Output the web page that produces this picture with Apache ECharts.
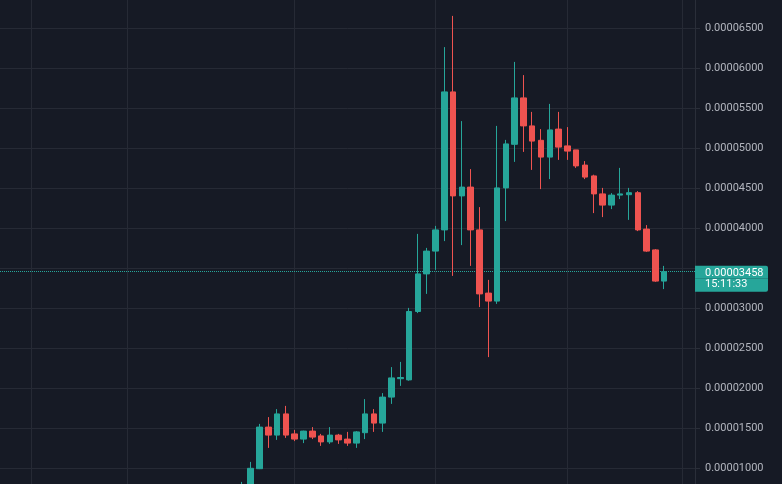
<!DOCTYPE html>
<html>
<head>
<meta charset="utf-8">
<script src="https://cdn.jsdelivr.net/npm/echarts@6/dist/echarts.min.js"></script>
<style>
html,body{margin:0;padding:0;background:#161a25;}
#chart{width:782px;height:484px;}
</style>
</head>
<body>
<div id="chart"></div>
<script>
// ---- data ----
const slotCount = 79;          // category slots on the time axis
const firstCandle = 27;        // slot index of the first candle
const opens  = [0.00000700,0.00000780,0.00000995,0.00001515,0.00001415,0.00001680,0.00001430,0.00001365,0.00001465,0.00001405,0.00001330,0.00001415,0.00001365,0.00001315,0.00001445,0.00001680,0.00001565,0.00001890,0.00002120,0.00002105,0.00002960,0.00003430,0.00003715,0.00003980,0.00005705,0.00004405,0.00004515,0.00003980,0.00003190,0.00003090,0.00004505,0.00005050,0.00005630,0.00005280,0.00005100,0.00004890,0.00005240,0.00005030,0.00004980,0.00004790,0.00004655,0.00004430,0.00004290,0.00004415,0.00004420,0.00004445,0.00003990,0.00003730,0.00003340];
const closes = [0.00000780,0.00001000,0.00001515,0.00001415,0.00001680,0.00001415,0.00001365,0.00001465,0.00001390,0.00001330,0.00001415,0.00001355,0.00001315,0.00001455,0.00001680,0.00001565,0.00001890,0.00002130,0.00002135,0.00002960,0.00003430,0.00003715,0.00003980,0.00005705,0.00004405,0.00004515,0.00003980,0.00003180,0.00003090,0.00004505,0.00005055,0.00005630,0.00005280,0.00005090,0.00004890,0.00005230,0.00005015,0.00004965,0.00004780,0.00004640,0.00004430,0.00004290,0.00004415,0.00004430,0.00004445,0.00003980,0.00003715,0.00003340,0.00003458];
const lows   = [0.00000650,0.00000750,0.00000990,0.00001255,0.00001355,0.00001380,0.00001340,0.00001315,0.00001365,0.00001280,0.00001305,0.00001305,0.00001280,0.00001255,0.00001365,0.00001455,0.00001455,0.00001805,0.00002030,0.00002095,0.00002940,0.00003180,0.00003480,0.00003840,0.00003405,0.00003790,0.00003530,0.00003015,0.00002390,0.00003055,0.00004090,0.00004830,0.00004955,0.00004730,0.00004490,0.00004615,0.00004855,0.00004855,0.00004755,0.00004615,0.00004190,0.00004140,0.00004240,0.00004365,0.00004105,0.00003965,0.00003705,0.00003330,0.00003240];
const highs  = [0.00000830,0.00001080,0.00001555,0.00001640,0.00001740,0.00001780,0.00001480,0.00001470,0.00001515,0.00001430,0.00001515,0.00001430,0.00001455,0.00001465,0.00001865,0.00001740,0.00001940,0.00002265,0.00002330,0.00003005,0.00003930,0.00003755,0.00004030,0.00006265,0.00006655,0.00005340,0.00004740,0.00004265,0.00003355,0.00005280,0.00005105,0.00006080,0.00005915,0.00005455,0.00005240,0.00005555,0.00005455,0.00005265,0.00004980,0.00004840,0.00004670,0.00004505,0.00004440,0.00004755,0.00004505,0.00004465,0.00004040,0.00003740,0.00003530];
const priceCountdown = '15:11:33';
const verticalGridSlots = [3, 14, 33, 49, 64, 77];
const yMin = 0.000005, yMax = 0.00007, yStep = 0.000005;
const hiddenTick = 0.000035;   // covered by the price label

// ---- build ----
const categories = [];
const candles = [];
for (let i = 0; i < slotCount; i++) {
  categories.push(String(i));
  const k = i - firstCandle;
  if (k >= 0 && k < opens.length) candles.push([opens[k], closes[k], lows[k], highs[k]]);
  else candles.push('-');
}
const lastPrice = closes[closes.length - 1];
const up = '#26a69a', down = '#ef5350', gridCol = '#262a35';

const markData = verticalGridSlots.map(s => ({
  xAxis: String(s),
  lineStyle: {color: gridCol, width: 1, type: 'solid'},
  label: {show: false}
}));
const boxText = {color: '#ffffff', backgroundColor: up, width: 57, fontSize: 11, fontFamily: 'Roboto', lineHeight: 13, align: 'left'};
markData.push({
  yAxis: lastPrice,
  lineStyle: {color: up, width: 1, type: [1, 1]},
  label: {
    show: true, position: 'end', distance: 0,
    formatter: p => '{g| }\n{p|' + Number(p.value).toFixed(8) + '}\n{t|' + priceCountdown + '}',
    rich: {
      g: {lineHeight: 14, height: 14, fontSize: 11, color: 'rgba(0,0,0,0)'},
      p: Object.assign({}, boxText, {padding: [2, 6, 0, 10], borderRadius: [0, 2, 0, 0]}),
      t: Object.assign({}, boxText, {padding: [0, 6, 2, 10], borderRadius: [0, 0, 2, 0]})
    }
  }
});

const chart = echarts.init(document.getElementById('chart'), null, {renderer: 'canvas'});
chart.setOption({
  backgroundColor: '#161a25',
  animation: false,
  grid: {left: 0, right: 87, top: -11.7, bottom: -24.3, containLabel: false, outerBoundsMode: 'none'},
  xAxis: {
    type: 'category', data: categories, boundaryGap: true,
    axisLine: {show: false}, axisTick: {show: false}, axisLabel: {show: false},
    splitLine: {show: false}
  },
  yAxis: {
    type: 'value', position: 'right', min: yMin, max: yMax, interval: yStep,
    axisLine: {show: true, lineStyle: {color: '#2a2e39'}},
    axisTick: {show: true, length: 5, lineStyle: {color: '#2a2e39'}},
    axisLabel: {
      margin: 10, color: '#b2b5be', fontSize: 11, fontFamily: 'Roboto',
      formatter: v => Math.abs(v - hiddenTick) < 1e-12 ? '' : v.toFixed(8)
    },
    splitLine: {show: true, lineStyle: {color: gridCol, width: 1}}
  },
  series: [{
    type: 'candlestick',
    data: candles,
    barWidth: 6,
    itemStyle: {color: up, color0: down, borderColor: up, borderColor0: down, borderWidth: 1},
    markLine: {
      silent: true, z: 1, precision: 10, symbol: ['none', 'none'], animation: false,
      data: markData
    }
  }]
});
</script>
</body>
</html>
